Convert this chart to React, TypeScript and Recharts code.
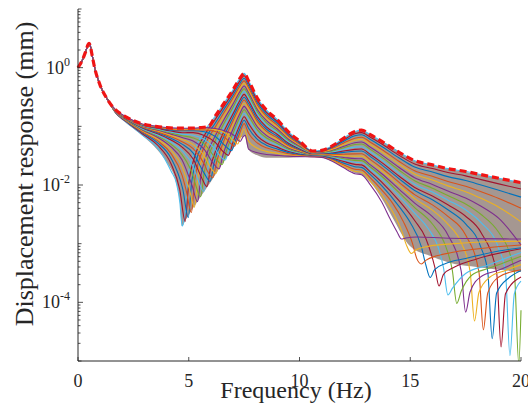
import React from "react";
import { ComposedChart, Line, Area, XAxis, YAxis } from "recharts";

// Shared low-frequency part (all curves coincide up to ~1.35 Hz)
const lowCommon: [number, number][] = [[0,1.0],[0.2,1.35],[0.35,1.9],[0.45,2.45],[0.5,2.6],[0.55,2.4],[0.62,1.76],[0.75,1.0],[1.0,0.5],[1.35,0.28]];

const c00: [number, number][] = [[1.7,.169],[2.1,.124],[2.9,.0713],[3.6,.0426],[4.2,.0173],[4.45,.0105],[4.6,.005],[4.7,.002],[4.85,.0037],[4.97,.014],[5.28,.04],[5.73,.085],[6.2,.15],[6.6,.25],[7.0,.42],[7.3,.65],[7.5,.8],[7.7,.6],[8.1,.3],[8.5,.19],[9.0,.13],[9.5,.08],[10.0,.056],[10.6,.038],[11.0,.0389],[11.5,.047],[12.0,.063],[12.5,.0819],[12.8,.086],[13.2,.072],[13.7,.056],[14.5,.036],[15.2,.026],[16,.022],[16.7,.019],[17.5,.017],[18.2,.015],[19,.013],[20,.011]];
const c01: [number, number][] = [[1.7,.170],[2.1,.126],[2.9,.0748],[3.6,.0476],[4.2,.0231],[4.59,.0085],[4.84,.0024],[4.99,.0099],[5.28,.0314],[5.73,.0725],[6.2,.132],[6.6,.2234],[7.0,.3787],[7.3,.589],[7.5,.727],[7.7,.546],[8.1,.2746],[8.5,.175],[9.0,.1206],[9.5,.0753],[10.0,.0536],[10.6,.0372],[11.0,.038],[11.5,.0451],[12.0,.0589],[12.5,.0746],[12.8,.078],[13.2,.065],[13.7,.0503],[14.5,.032],[15.2,.0228],[16,.0191],[16.7,.0163],[17.5,.0143],[18.2,.01235],[19,.01046],[20,.00854]];
const c02: [number, number][] = [[1.7,.171],[2.1,.129],[2.9,.0781],[3.6,.0522],[4.2,.0287],[4.73,.0085],[4.98,.0028],[5.13,.0111],[5.28,.0218],[5.73,.0594],[6.2,.1143],[6.6,.1974],[7.0,.3393],[7.3,.5315],[7.5,.659],[7.7,.497],[8.1,.2514],[8.5,.161],[9.0,.112],[9.5,.071],[10.0,.0513],[10.6,.0366],[11.0,.0373],[11.5,.0436],[12.0,.0557],[12.5,.0691],[12.8,.072],[13.2,.0597],[13.7,.0458],[14.5,.0288],[15.2,.0202],[16,.01664],[16.7,.01389],[17.5,.01191],[18.2,.00999],[19,.00813],[20,.00621]];
const c03: [number, number][] = [[1.7,.172],[2.1,.131],[2.9,.0811],[3.6,.0565],[4.2,.0342],[4.7,.0146],[4.87,.0085],[5.12,.0034],[5.27,.0124],[5.73,.0476],[6.2,.098],[6.6,.1737],[7.0,.3032],[7.3,.4789],[7.5,.596],[7.7,.452],[8.1,.230],[8.5,.149],[9.0,.1041],[9.5,.0671],[10.0,.0493],[10.6,.0359],[11.0,.0365],[11.5,.0419],[12.0,.0519],[12.5,.0627],[12.8,.065],[13.2,.0536],[13.7,.0408],[14.5,.0252],[15.2,.01745],[16,.01405],[16.7,.01146],[17.5,.0095],[18.2,.00766],[19,.00588],[20,.00401]];
const c04: [number, number][] = [[1.7,.173],[2.1,.132],[2.9,.084],[3.6,.0606],[4.2,.0395],[4.7,.0206],[5.01,.009],[5.26,.0042],[5.41,.0133],[5.73,.0368],[6.2,.0831],[6.6,.1519],[7.0,.27],[7.3,.4303],[7.5,.539],[7.7,.411],[8.1,.2104],[8.5,.137],[9.0,.0968],[9.5,.0634],[10.0,.0474],[10.6,.0353],[11.0,.0359],[11.5,.0405],[12.0,.049],[12.5,.0581],[12.8,.060],[13.2,.0492],[13.7,.0372],[14.5,.02265],[15.2,.01543],[16,.01215],[16.7,.00966],[17.5,.0077],[18.2,.00593],[19,.00419],[20,.00235]];
const c05: [number, number][] = [[1.7,.175],[2.1,.134],[2.9,.0866],[3.6,.0645],[4.2,.0445],[4.7,.0267],[5.15,.0098],[5.4,.0052],[5.55,.0145],[5.73,.0272],[6.2,.069],[6.6,.1322],[7.0,.2398],[7.3,.386],[7.5,.486],[7.7,.373],[8.1,.1923],[8.5,.126],[9.0,.0901],[9.5,.0601],[10.0,.0456],[10.6,.0348],[11.0,.0353],[11.5,.039],[12.0,.0457],[12.5,.0526],[12.8,.054],[13.2,.044],[13.7,.033],[14.5,.01984],[15.2,.01331],[16,.01022],[16.7,.0079],[17.5,.00601],[18.2,.00434],[19,.0027],[20,.00095]];
const c06: [number, number][] = [[1.7,.176],[2.1,.136],[2.9,.0891],[3.6,.0681],[4.2,.0494],[4.7,.0327],[5.2,.014],[5.29,.0107],[5.54,.0063],[5.69,.0159],[6.2,.0575],[6.6,.1142],[7.0,.212],[7.3,.3452],[7.5,.437],[7.7,.337],[8.1,.1755],[8.5,.116],[9.0,.0839],[9.5,.057],[10.0,.044],[10.6,.0343],[11.0,.0347],[11.5,.0378],[12.0,.0433],[12.5,.0489],[12.8,.050],[13.2,.0405],[13.7,.0302],[14.5,.01788],[15.2,.0118],[16,.00884],[16.7,.00661],[17.5,.00475],[18.2,.00314],[19,.00155],[19.5,.00067],[19.7,.00033],[19.9,.000009],[20,.000073]];
const c07: [number, number][] = [[1.7,.177],[2.1,.138],[2.9,.0913],[3.6,.0715],[4.2,.054],[4.7,.0386],[5.2,.0207],[5.43,.0119],[5.68,.0077],[5.85,.0187],[6.2,.0465],[6.6,.0978],[7.0,.1866],[7.3,.3077],[7.5,.392],[7.7,.304],[8.1,.1599],[8.5,.107],[9.0,.0781],[9.5,.0541],[10.0,.0425],[10.6,.0338],[11.0,.0341],[11.5,.0364],[12.0,.0404],[12.5,.0442],[12.8,.045],[13.2,.0364],[13.7,.027],[14.5,.0158],[15.2,.0103],[16,.00757],[16.7,.00552],[17.5,.00378],[18.2,.00229],[19,.00082],[19.3,.00032],[19.5,.0000124],[19.7,.00014],[20,.00023]];
const c08: [number, number][] = [[1.7,.178],[2.1,.139],[2.9,.0935],[3.6,.0748],[4.2,.0584],[4.7,.0443],[5.2,.0277],[5.57,.0136],[5.82,.0094],[6.0,.0214],[6.2,.0367],[6.6,.083],[7.0,.1634],[7.3,.2733],[7.5,.351],[7.7,.273],[8.1,.1453],[8.5,.098],[9.0,.0727],[9.5,.0514],[10.0,.0411],[10.6,.0334],[11.0,.0336],[11.5,.0352],[12.0,.0379],[12.5,.0405],[12.8,.041],[13.2,.033],[13.7,.0243],[14.5,.0141],[15.2,.00906],[16,.0065],[16.7,.00459],[17.5,.00293],[18.2,.00154],[18.9,.00032],[19.1,.0000174],[19.3,.00014],[20,.00027]];
const c09: [number, number][] = [[1.7,.179],[2.1,.140],[2.9,.0955],[3.6,.0778],[4.2,.0625],[4.7,.0498],[5.2,.035],[5.71,.0156],[5.96,.0115],[6.15,.0245],[6.6,.0697],[7.0,.1424],[7.3,.2417],[7.5,.313],[7.7,.245],[8.1,.1318],[8.5,.090],[9.0,.0677],[9.5,.0489],[10.0,.0398],[10.6,.033],[11.0,.0331],[11.5,.0342],[12.0,.036],[12.5,.0377],[12.8,.038],[13.2,.03045],[13.7,.0223],[14.5,.01275],[15.2,.00806],[16,.00561],[16.7,.00379],[17.5,.00218],[18.2,.00085],[18.5,.00033],[18.7,.000024],[18.9,.000144],[19.5,.00027],[20,.00035]];
const c10: [number, number][] = [[1.7,.180],[2.1,.142],[2.9,.0973],[3.6,.0804],[4.2,.0662],[4.7,.0547],[5.2,.0417],[5.7,.0228],[5.84,.0174],[6.09,.0134],[6.25,.0242],[6.6,.0583],[7.0,.1241],[7.3,.2144],[7.5,.281],[7.7,.220],[8.1,.1202],[8.5,.083],[9.0,.0634],[9.5,.0467],[10.0,.0387],[10.6,.0327],[11.0,.0327],[11.5,.033],[12.0,.0335],[12.5,.0339],[12.8,.034],[13.2,.0271],[13.7,.0197],[14.5,.01108],[15.2,.00685],[16,.00459],[16.7,.00292],[17.5,.0014],[18.1,.00033],[18.3,.000034],[18.5,.000145],[19,.00027],[20,.00036]];
const c11: [number, number][] = [[1.7,.181],[2.1,.143],[2.9,.099],[3.6,.0831],[4.2,.070],[4.7,.0597],[5.2,.0488],[5.7,.0314],[5.98,.0199],[6.23,.0158],[6.4,.0285],[6.6,.0473],[7.0,.1063],[7.3,.1875],[7.5,.248],[7.7,.196],[8.1,.1086],[8.5,.0766],[9.0,.0591],[9.5,.0446],[10.0,.0376],[10.6,.0323],[11.0,.0323],[11.5,.032],[12.0,.0315],[12.5,.0311],[12.8,.031],[13.2,.02457],[13.7,.01768],[14.5,.00975],[15.2,.00587],[16,.00373],[16.7,.00215],[17.3,.00104],[17.7,.00034],[17.9,.000048],[18.1,.000147],[18.6,.00027],[19.3,.00035],[20,.00044]];
const c12: [number, number][] = [[1.7,.182],[2.1,.144],[2.9,.1007],[3.6,.0857],[4.2,.0736],[4.7,.0646],[5.2,.0561],[5.7,.0406],[6.12,.023],[6.37,.0188],[6.55,.0331],[7.0,.0903],[7.3,.1629],[7.5,.219],[7.7,.173],[8.1,.0975],[8.5,.070],[9.0,.055],[9.5,.0425],[10.0,.0365],[10.6,.032],[11.0,.0319],[11.5,.0309],[12.0,.0295],[12.5,.0282],[12.8,.028],[13.2,.022],[13.7,.01568],[14.5,.00844],[15.2,.00491],[16,.00289],[16.7,.00141],[17.3,.00034],[17.5,.000068],[17.7,.00015],[18.2,.000275],[19,.000355],[20,.00052]];
const c13: [number, number][] = [[1.7,.183],[2.1,.145],[2.9,.1023],[3.6,.0881],[4.2,.077],[4.7,.0692],[5.2,.0634],[5.7,.0501],[6.2,.029],[6.51,.0223],[6.7,.0383],[7.0,.0762],[7.3,.1408],[7.5,.192],[7.7,.151],[8.1,.0872],[8.5,.0639],[9.0,.0512],[9.5,.0406],[10.0,.0355],[10.6,.0317],[11.0,.0315],[11.5,.0301],[12.0,.028],[12.5,.0263],[12.8,.026],[13.2,.02028],[13.7,.01425],[14.5,.00743],[15.2,.00412],[16,.00216],[16.6,.0009],[16.9,.00035],[17.1,.000096],[17.3,.000154],[17.8,.000295],[18.5,.000376],[19.2,.00047],[20,.00061]];
const c14: [number, number][] = [[1.7,.184],[2.1,.146],[2.9,.1038],[3.6,.0903],[4.2,.0802],[4.7,.0737],[5.2,.0706],[5.7,.060],[6.2,.0405],[6.4,.0316],[6.65,.0267],[6.85,.0457],[7.0,.064],[7.3,.1211],[7.5,.167],[7.7,.130],[8.1,.0775],[8.5,.0582],[9.0,.0476],[9.5,.0388],[10.0,.0346],[10.6,.0314],[11.0,.0311],[11.5,.0293],[12.0,.0266],[12.5,.0244],[12.8,.024],[13.2,.01854],[13.7,.0128],[14.5,.0064],[15.2,.00332],[15.8,.00183],[16.3,.000785],[16.5,.00039],[16.7,.000134],[16.9,.000173],[17.5,.00031],[18.5,.00043],[20,.00071]];
const c15: [number, number][] = [[1.7,.185],[2.1,.147],[2.9,.1052],[3.6,.0925],[4.2,.0832],[4.7,.0779],[5.2,.0782],[5.7,.0701],[6.2,.0532],[6.54,.0375],[6.79,.032],[7.0,.0537],[7.3,.1038],[7.5,.146],[7.7,.111],[8.1,.0683],[8.5,.0527],[9.0,.0442],[9.5,.0371],[10.0,.0337],[10.6,.0311],[11.0,.0308],[11.5,.0284],[12.0,.0251],[12.5,.0225],[12.8,.022],[13.2,.01677],[13.7,.01134],[14.5,.00535],[15.2,.00248],[15.7,.00124],[16.1,.00041],[16.3,.00019],[16.5,.0003],[17,.0004],[18,.00055],[20,.00082]];
const c16: [number, number][] = [[1.7,.186],[2.1,.148],[2.9,.1065],[3.6,.0945],[4.2,.0861],[4.7,.084],[5.2,.084],[5.7,.0806],[6.2,.067],[6.68,.0451],[6.93,.0384],[7.1,.0568],[7.3,.0889],[7.5,.127],[7.7,.093],[8.1,.060],[8.5,.0478],[9.0,.0411],[9.5,.0356],[10.0,.0329],[10.6,.0309],[11.0,.0305],[11.5,.0276],[12.0,.0236],[12.5,.0205],[12.8,.020],[13.2,.015],[13.7,.00985],[14.5,.00428],[15.0,.00229],[15.5,.00089],[15.7,.00044],[15.9,.000265],[16.1,.00036],[16.6,.00046],[17.5,.00056],[19,.00075],[20,.00085]];
const c17: [number, number][] = [[1.7,.187],[2.1,.149],[2.9,.1077],[3.6,.0964],[4.2,.0889],[4.7,.0868],[5.2,.088],[5.7,.087],[6.2,.0814],[6.7,.061],[6.82,.0545],[7.07,.0458],[7.2,.0614],[7.3,.0763],[7.5,.111],[7.7,.076],[8.1,.0519],[8.5,.043],[9.0,.0381],[9.5,.034],[10.0,.0321],[10.6,.0306],[11.0,.0301],[11.5,.0267],[12.0,.022],[12.5,.0186],[12.8,.018],[13.2,.0132],[13.7,.00833],[14.2,.00491],[14.7,.00233],[15.1,.00101],[15.3,.00055],[15.5,.00045],[15.7,.00052],[16.2,.00062],[17,.00072],[18.5,.00085],[20,.00095]];
const c18: [number, number][] = [[1.7,.188],[2.1,.149],[2.9,.1089],[3.6,.0983],[4.2,.0915],[4.7,.0895],[5.2,.0905],[5.7,.091],[6.2,.088],[6.7,.075],[6.96,.06],[7.21,.05],[7.35,.0684],[7.5,.09],[7.7,.056],[8.1,.0424],[8.5,.0374],[9.0,.0346],[9.5,.0323],[10.0,.0312],[10.6,.0304],[11.0,.0298],[11.5,.0259],[12.0,.0208],[12.5,.0171],[12.8,.0165],[13.2,.01168],[13.7,.00687],[14.2,.00353],[14.6,.0017],[14.85,.0009],[15.05,.00068],[15.25,.00078],[15.8,.0009],[17,.001],[18.5,.00108],[20,.0011]];
const c19: [number, number][] = [[1.7,.19],[2.1,.15],[2.9,.11],[3.6,.10],[4.2,.094],[4.7,.093],[5.2,.093],[5.7,.095],[6.2,.092],[6.7,.082],[7.0,.072],[7.15,.064],[7.32,.055],[7.45,.066],[7.55,.07],[7.7,.041],[8.1,.0354],[8.5,.0332],[9.0,.032],[9.5,.031],[10.0,.0305],[10.6,.0302],[11.0,.0296],[11.5,.0252],[12.0,.0196],[12.5,.0156],[12.8,.015],[13.2,.01005],[13.7,.00522],[14.1,.0026],[14.4,.0016],[14.6,.0012],[14.8,.00125],[15.3,.0013],[16.5,.00125],[18,.00122],[20,.0012]];

// Red dashed envelope (maximum response)
const envelope: [number, number][] = [[0,1.0],[0.2,1.35],[0.35,1.9],[0.45,2.45],[0.5,2.6],[0.55,2.4],[0.62,1.76],[0.75,1.0],[1.0,0.5],[1.35,0.28],[1.7,0.19],[2.1,0.15],[2.5,0.125],[2.9,0.11],[3.5,0.10],[4.0,0.095],[4.5,0.093],[5.0,0.093],[5.5,0.095],[5.9,0.10],[6.2,0.15],[6.6,0.25],[7.0,0.42],[7.3,0.65],[7.5,0.8],[7.7,0.6],[8.1,0.3],[8.5,0.19],[9.0,0.13],[9.5,0.08],[10.0,0.056],[10.6,0.038],[11.0,0.039],[11.5,0.047],[12.0,0.063],[12.5,0.082],[12.8,0.086],[13.2,0.072],[13.7,0.056],[14.5,0.036],[15.2,0.026],[16,0.022],[16.7,0.019],[17.5,0.017],[18.2,0.015],[19,0.013],[20,0.011]];

// Extent of the densely packed part of the curve family: [f, lower, upper]
const denseBand: [number, number, number][] = [[1.35,.28,.28],[1.7,.17,.19],[2.1,.12,.15],[2.5,.092,.125],[2.9,.07,.11],[3.6,.039,.10],[4.05,.023,.095],[4.4,.012,.093],[4.6,.005,.093],[4.7,.002,.093],[4.85,.0025,.093],[5.5,.006,.095],[5.9,.01,.10],[6.2,.015,.15],[6.7,.029,.28],[7.0,.042,.42],[7.3,.063,.65],[7.45,.067,.78],[7.5,.07,.8],[7.7,.04,.6],[8.1,.032,.3],[8.5,.029,.19],[9.0,.029,.13],[9.5,.029,.08],[10.0,.03,.056],[10.6,.031,.038],[11.0,.0296,.039],[11.5,.0255,.047],[12.0,.02,.063],[12.5,.016,.082],[12.8,.015,.086],[13.2,.011,.072],[13.7,.006,.056],[14.2,.0028,.044],[15.0,.0009,.028],[16.0,.0006,.022],[17.0,.00045,.018],[18.0,.0004,.0155],[19.0,.00036,.013],[20.0,.00033,.011]];

const xTicks = [0, 5, 10, 15, 20];
const yMajorTicks = [1e-4, 1e-2, 1];
const yMajorExponents = ["-4", "-2", "0"];

const palette = ["#4DBEEE", "#A2142F", "#0072BD", "#D95319", "#EDB120", "#7E2F8E", "#77AC30"];
const FONT = "'Liberation Serif', 'Times New Roman', serif";
const INK = "#262626";

const curveList = [c00, c01, c02, c03, c04, c05, c06, c07, c08, c09, c10, c11, c12, c13, c14, c15, c16, c17, c18, c19];
const toRows = (pts: [number, number][]) => pts.map(([f, v]) => ({ f, v }));
const curveRows = curveList.map((c) => toRows([...lowCommon, ...c]));
const envelopeRows = toRows(envelope);
const bandRows = denseBand.map(([f, lo, hi]) => ({ f, range: [lo, hi] }));

const yAllTicks: number[] = [];
for (let e = -5; e <= 0; e++) {
  for (let m = 1; m <= 9; m++) yAllTicks.push(m * Math.pow(10, e));
}
yAllTicks.push(10);

const YTick = (props: any) => {
  const { x, y, payload } = props;
  const lg = Math.log10(payload.value);
  const idx = yMajorTicks.findIndex((t) => Math.abs(Math.log10(t) - lg) < 1e-6);
  const isDecade = Math.abs(lg - Math.round(lg)) < 1e-6;
  const len = idx >= 0 ? 5 : isDecade ? 3.5 : 2.5;
  return (
    <g>
      <line x1={x} y1={y} x2={x + len} y2={y} stroke={INK} strokeWidth={0.8} />
      {idx >= 0 && (
        <text x={x - 8} y={y + 6} textAnchor="end" fontSize={18} fill={INK} fontFamily={FONT}>
          10<tspan dy={-8} fontSize={12}>{yMajorExponents[idx]}</tspan>
        </text>
      )}
    </g>
  );
};

const XTick = (props: any) => {
  const { x, y, payload } = props;
  return (
    <g>
      <line x1={x} y1={y} x2={x} y2={y - 4} stroke={INK} strokeWidth={0.8} />
      <text x={x} y={y + 26} textAnchor="middle" fontSize={18} fill={INK} fontFamily={FONT}>
        {payload.value}
      </text>
    </g>
  );
};

export default function App() {
  return (
    <div style={{ position: "absolute", left: 0, top: 0, width: 528, height: 406, background: "#fff" }}>
      <ComposedChart width={528} height={406} margin={{ top: 9, right: 7, bottom: 15, left: 8 }}>
        <XAxis
          type="number"
          dataKey="f"
          domain={[0, 20]}
          ticks={xTicks}
          interval={0}
          height={30}
          tickLine={false}
          tickSize={0}
          tickMargin={0}
          tick={<XTick />}
          axisLine={{ stroke: INK, strokeWidth: 1 }}
        />
        <YAxis
          type="number"
          scale="log"
          domain={[1e-5, 10]}
          allowDataOverflow
          ticks={yAllTicks}
          interval={0}
          width={70}
          tickLine={false}
          tickSize={0}
          tickMargin={0}
          tick={<YTick />}
          axisLine={{ stroke: INK, strokeWidth: 1 }}
        />
        <Area
          data={bandRows}
          dataKey="range"
          type="monotone"
          stroke="none"
          fill="#85736a"
          fillOpacity={0.74}
          dot={false}
          activeDot={false}
          isAnimationActive={false}
        />
        {curveRows.map((rows, i) => (
          <Line
            key={"c" + i}
            data={rows}
            dataKey="v"
            type="monotone"
            dot={false}
            activeDot={false}
            stroke={palette[i % palette.length]}
            strokeWidth={1.1}
            isAnimationActive={false}
          />
        ))}
        <Line
          data={envelopeRows}
          dataKey="v"
          type="monotone"
          dot={false}
          activeDot={false}
          stroke="#f01414"
          strokeWidth={3.2}
          strokeDasharray="7 4"
          isAnimationActive={false}
        />
      </ComposedChart>
      <svg width={528} height={406} style={{ position: "absolute", left: 0, top: 0, pointerEvents: "none" }}>
        <text x={296} y={398} textAnchor="middle" fontSize={24} fill={INK} fontFamily={FONT}>
          Frequency (Hz)
        </text>
        <text transform="translate(33,174) rotate(-90)" textAnchor="middle" fontSize={26} fill={INK} fontFamily={FONT}>
          Displacement response (mm)
        </text>
      </svg>
    </div>
  );
}
